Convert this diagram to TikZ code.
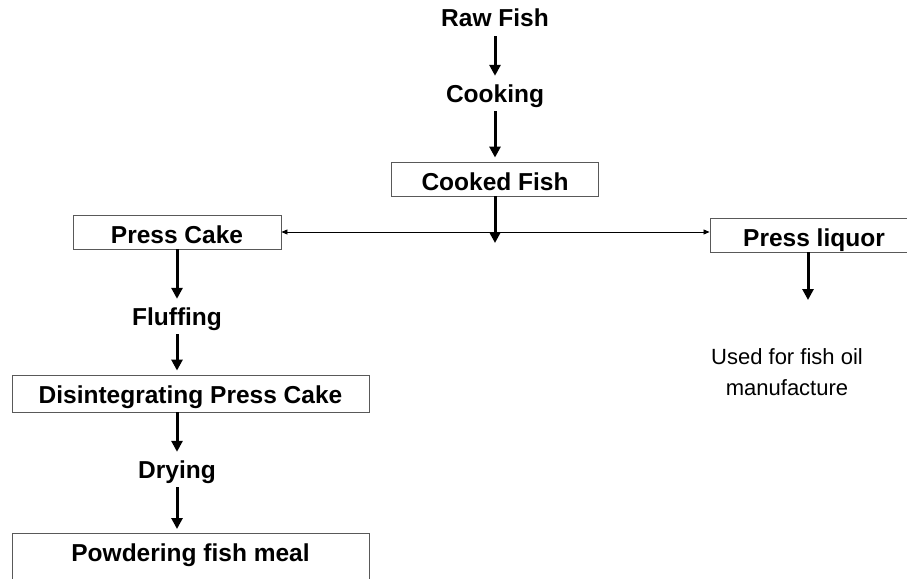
\documentclass[tikz,border=0pt]{standalone}
\usepackage{fontspec}
\setmainfont{Liberation Sans}
\usetikzlibrary{arrows.meta}
\tikzset{
  stage/.style={font=\fontsize{24.5}{29}\selectfont\bfseries, inner xsep=2pt, inner ysep=4pt, text height=18pt, text depth=5pt},
  stagebox/.style={draw=black!65, line width=0.9pt, font=\fontsize{24.5}{29}\selectfont\bfseries, inner xsep=0pt, inner ysep=0pt, text height=28pt, text depth=6pt},
  flow/.style={-{Triangle[length=11pt,width=11pt]}, line width=3pt, shorten >=4pt},
  branch/.style={{Triangle[length=6pt,width=5pt]}-{Triangle[length=6pt,width=5pt]}, line width=0.8pt}
}

\begin{document}
\begin{tikzpicture}[x=1pt, y=-1pt]
\clip (0,0) rectangle (907,578);
% ===== main line: raw fish to cooked fish =====
\node[stage] (raw) at (495,20.5) {Raw Fish};
\node[stage] (cook) at (495,95.5) {Cooking};
\node[stagebox, minimum width=207pt] (cfish) at (495,179) {Cooked Fish};
\coordinate (fork) at (495,247);
\draw[flow] (raw) -- (cook);
\draw[flow] (cook) -- (cfish);
\draw[flow] (cfish) -- (fork);
% ===== pressing: cake to the left, liquor to the right =====
\node[stagebox, minimum width=208pt] (pcake) at (177,232) {Press Cake};
\node[stagebox, minimum width=208pt] (pliq) at (814,235) {Press liquor};
\draw[branch] (pcake.east) -- (pcake.east -| pliq.west);
% liquor branch
\coordinate (oilend) at (808,304);
\node[font=\fontsize{22}{31}\selectfont, align=center] (oiluse) at (787,372) {Used for fish oil\\manufacture};
\draw[flow] (pliq.south -| oilend) -- (oilend);
% ===== cake branch: fluffing, drying, powdering =====
\node[stage] (fluff) at (177,318.5) {Fluffing};
\node[stagebox, minimum width=357pt, text depth=9pt] (disint) at (190.5,393.5) {Disintegrating Press Cake};
\node[stage] (dry) at (177,471.5) {Drying};
\node[stagebox, minimum width=357pt, text depth=40pt, anchor=north] (powder) at (190.5,533) {Powdering fish meal};
\draw[flow] (pcake) -- (fluff);
\draw[flow] (fluff) -- (fluff |- disint.north);
\draw[flow] (disint.south -| dry) -- (dry);
\draw[flow] (dry) -- (dry |- powder.north);
\end{tikzpicture}
\end{document}
